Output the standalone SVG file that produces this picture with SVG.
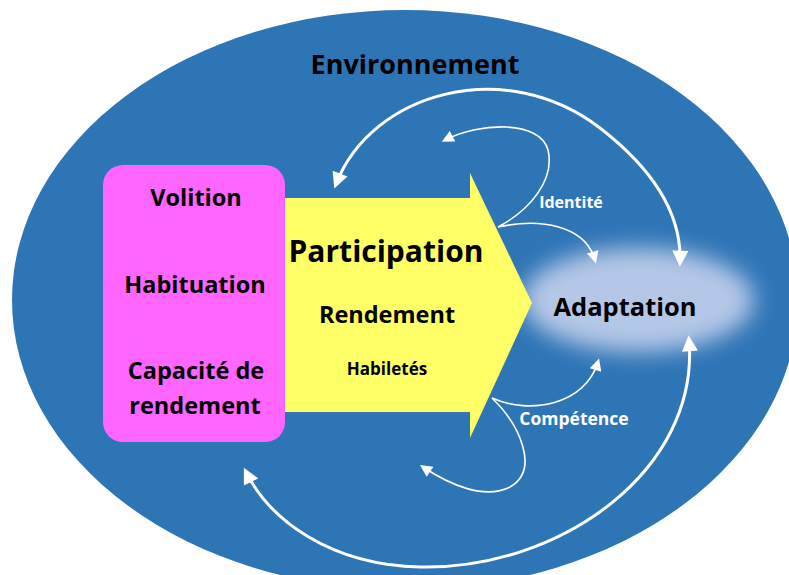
<svg xmlns="http://www.w3.org/2000/svg" width="789" height="575" viewBox="0 0 789 575">
<defs>
<style>
.t{font-family:"Open Sans","Liberation Sans",sans-serif;font-weight:bold;text-anchor:middle;fill:#000}
.w{fill:#fff}
.big{fill:none;stroke:#fff;stroke-width:3}
.thin{fill:none;stroke:#fff;stroke-width:1.6}
</style>
<marker id="ah" viewBox="0 0 10 10" refX="7" refY="5" markerWidth="18" markerHeight="16" markerUnits="userSpaceOnUse" orient="auto-start-reverse">
<path d="M0,0 L10,5 L0,10 z" fill="#fff"/>
</marker>
<marker id="as" viewBox="0 0 10 10" refX="7" refY="5" markerWidth="13" markerHeight="12" markerUnits="userSpaceOnUse" orient="auto-start-reverse">
<path d="M0,0 L10,5 L0,10 z" fill="#fff"/>
</marker>
<filter id="blur" x="-30%" y="-60%" width="160%" height="220%">
<feGaussianBlur stdDeviation="11"/>
</filter>
</defs>
<g id="environnement">
<ellipse cx="405" cy="300" rx="393" ry="290" fill="#2E75B6"/>
<text class="t" x="415" y="74" font-size="27">Environnement</text>
</g>
<g id="adaptation">
<ellipse cx="638" cy="300" rx="116" ry="52" fill="#B4C7E7" filter="url(#blur)"/>
<text class="t" x="625" y="316" font-size="25.5">Adaptation</text>
</g>
<g id="participation">
<path d="M278,198 L470,198 L470,173 L532,303 L470,438 L470,412 L278,412 z" fill="#FFFF66"/>
<text class="t" x="386" y="262" font-size="30">Participation</text>
<text class="t" x="387" y="323" font-size="23.5">Rendement</text>
<text class="t" x="387" y="375" font-size="17">Habiletés</text>
</g>
<g id="personne">
<rect x="103" y="165" width="182" height="277" rx="20" ry="20" fill="#FF66FF"/>
<text class="t" x="196" y="206" font-size="23.5">Volition</text>
<text class="t" x="195" y="293" font-size="23.5">Habituation</text>
<text class="t" x="196" y="379" font-size="23.5">Capacité de</text>
<text class="t" x="195" y="414" font-size="23.5">rendement</text>
</g>
<g id="connectors">
<path class="big" d="M336,184 C372,92 505,55 600,128 C640,159 682,205 680,262" marker-start="url(#ah)" marker-end="url(#ah)"/>
<path class="big" d="M689,340 C700,470 560,570 420,567 C330,565 270,520 246,472" marker-start="url(#ah)" marker-end="url(#ah)"/>
<path class="thin" d="M498,227 C530,210 555,180 548,150 C540,120 480,122 445,140" marker-end="url(#as)"/>
<path class="thin" d="M498,227 C540,218 585,225 595,260" marker-end="url(#as)"/>
<path class="thin" d="M492,398 C530,415 585,405 598,362" marker-end="url(#as)"/>
<path class="thin" d="M492,398 C520,425 540,470 510,487 C485,500 450,485 423,467" marker-end="url(#as)"/>
<text class="t w" x="571" y="208" font-size="16">Identité</text>
<text class="t w" x="574" y="425" font-size="17.5">Compétence</text>
</g>
</svg>
